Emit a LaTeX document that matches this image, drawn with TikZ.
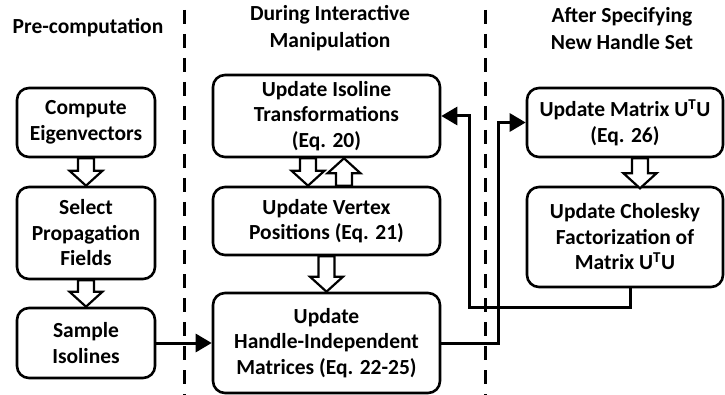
\documentclass[tikz,border=0pt]{standalone}
\usepackage{fontspec}
\setmainfont{Carlito}
\usetikzlibrary{arrows.meta,calc}

% hollow block arrow from one anchor to another
\newcommand\blockarr[2]{%
  \coordinate (ba-s) at (#1);
  \coordinate (ba-e) at (#2);
  \coordinate (ba-b) at ($(ba-e)!15pt!(ba-s)$);
  \draw[hollow] ($(ba-s)!8pt!90:(ba-e)$) -- ($(ba-b)!8pt!-90:(ba-s)$)
    -- ($(ba-b)!16.5pt!-90:(ba-s)$) -- (ba-e) -- ($(ba-b)!16.5pt!90:(ba-s)$)
    -- ($(ba-b)!8pt!90:(ba-s)$) -- ($(ba-s)!8pt!-90:(ba-e)$) -- cycle;}

\begin{document}
\begin{tikzpicture}[x=1pt,y=-1pt,
  box/.style={draw, line width=2.6pt, rounded corners=12pt, fill=white,
    inner sep=0pt, align=center,
    font=\fontsize{21.5}{25.5}\selectfont\bfseries},
  header/.style={align=center, inner sep=0pt,
    font=\fontsize{21.5}{27}\selectfont\bfseries},
  divider/.style={line width=3pt, dash pattern=on 14pt off 10pt},
  conn/.style={line width=3pt, -{Triangle[length=16pt 0 0,width=18pt 0 0]}},
  hollow/.style={draw, line width=2.2pt, fill=white, line join=miter}]

\useasboundingbox (0,0) rectangle (725,395);

% column dividers
\coordinate (d1t) at (184,10);  \coordinate (d1b) at (184,395);
\coordinate (d2t) at (485,10);  \coordinate (d2b) at (485,395);
\draw[divider] (d1t) -- (d1b);
\draw[divider] (d2t) -- (d2b);

% column headers
\node[header] (h1) at (88,28) {Pre-computation};
\node[header] (h2) at (330,28.5) {During Interactive\\Manipulation};
\node[header] (h3) at (622,28.5) {After Specifying\\New Handle Set};

% pre-computation
\node[box, minimum width=138pt, minimum height=69pt] (eig) at (86,122.5)
  {Compute\\Eigenvectors};
\node[box, minimum width=138pt, minimum height=92pt] (sel) at (86,233)
  {Select\\Propagation\\Fields};
\node[box, minimum width=138pt, minimum height=70pt] (samp) at (86,343)
  {Sample\\Isolines};

% interactive manipulation
\node[box, minimum width=227pt, minimum height=82pt] (iso) at (326.5,116)
  {Update Isoline\\Transformations\\(Eq. 20)};
\node[box, minimum width=227pt, minimum height=68pt] (vert) at (326.5,221)
  {Update Vertex\\Positions (Eq. 21)};
\node[box, minimum width=227pt, minimum height=100pt] (hand) at (326.5,343)
  {Update\\Handle-Independent\\Matrices (Eq. 22-25)};

% new handle set
\node[box, minimum width=196pt, minimum height=69pt] (mat) at (625,122.5)
  {Update Matrix U\textsuperscript{T}U\\(Eq. 26)};
\node[box, minimum width=196pt, minimum height=100pt] (chol) at (625,237)
  {Update Cholesky\\Factorization of\\Matrix U\textsuperscript{T}U};

% block arrows
\blockarr{eig.south}{sel.north}
\blockarr{sel.south}{samp.north}
\blockarr{$(iso.south)+(-18.5,0)$}{$(vert.north)+(-18.5,0)$}
\blockarr{$(vert.north)+(17.5,0)$}{$(iso.south)+(17.5,0)$}
\blockarr{vert.south}{hand.north}
\blockarr{$(mat.south)+(15,0)$}{$(chol.south)+(15,-100)$}

% connectors
\coordinate (r1) at (498,0);
\coordinate (r2) at (469,0);
\coordinate (cb) at (630,307);
\draw[conn] (samp.east) -- (samp.east -| hand.west);
\draw[conn] (hand.east) -- (hand.east -| r1) -- (r1 |- mat.west) -- (mat.west);
\draw[conn] ($(chol.south)+(5,0)$) -- (cb) -- (cb -| r2) -- (r2 |- iso.east)
  -- (iso.east);
\end{tikzpicture}
\end{document}
